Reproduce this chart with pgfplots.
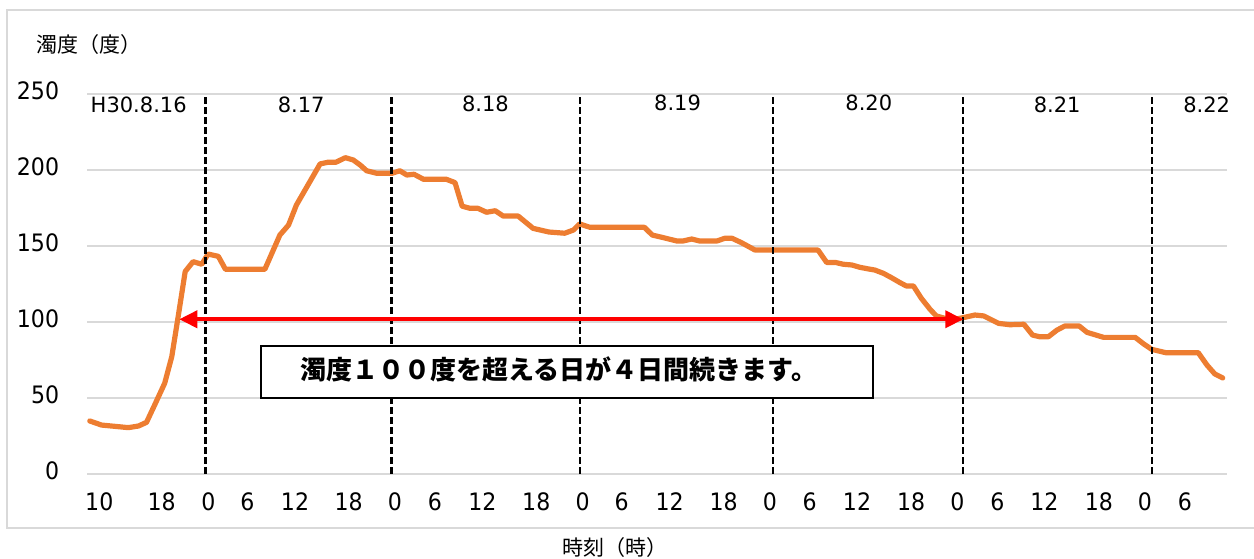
\documentclass[border=0pt]{standalone}
\usepackage{fontspec}
\usepackage{pgfplots}
\pgfplotsset{compat=1.18}
\usetikzlibrary{arrows.meta}
\setmainfont{DejaVu Sans}
\newfontfamily\numfont{DejaVu Sans}[FakeStretch=0.92]
\newfontfamily\cjk{Noto Sans CJK JP}
\definecolor{turb}{RGB}{237,125,49}
\definecolor{gridgray}{RGB}{217,217,217}
\begin{document}
\begin{tikzpicture}
\useasboundingbox (0,0) rectangle (1254bp,559bp);
% outer chart frame
\draw[gridgray, line width=1.8bp] (7bp,31.3bp) rectangle (1270bp,549bp);
\begin{axis}[
    at={(87bp,85.3bp)}, anchor=south west,
    scale only axis, width=1140bp, height=380bp,
    xmin=8.955, xmax=153.44, ymin=0, ymax=250,
    axis line style={draw=none}, tick style={draw=none},
    major tick length=0pt,
    ymajorgrids, grid style={gridgray, line width=1.8bp},
    ytick={0,50,100,150,200,250},
    yticklabels={0,50,100,150,200,250},
    xtick={10.51,18.42,24.33,29.27,35.32,42.12,47.99,53.06,59.08,65.9,71.78,76.72,82.81,89.65,95.52,100.55,106.55,113.42,119.26,124.33,130.31,137.2,143.05,148.12},
    xticklabels={10,18,0,6,12,18,0,6,12,18,0,6,12,18,0,6,12,18,0,6,12,18,0,6},
    every tick label/.append style={font=\numfont\fontsize{24bp}{28bp}\selectfont, inner sep=0pt},
    xticklabel style={anchor=center, yshift=-28bp},
    yticklabel style={anchor=east, xshift=-27.7bp, yshift=3bp},
    clip=false,
]
\addplot[turb, line width=5.2bp, line join=round, line cap=round] coordinates {
(9.3,34.7) (10.8,32) (14.2,30.3) (15.5,31.4) (16.5,33.8) (17.6,46) (18.8,59.5)
(19.7,77) (20.5,103) (21.4,133) (22.4,139.5) (23.5,137.8) (24.3,144.5) (25.6,143)
(26.5,134.5) (31.5,134.5) (33.4,157) (34.5,163.6) (35.5,176.8) (38.5,203.8)
(39.5,204.9) (40.5,204.9) (41.7,207.9) (42.7,206.4) (43.6,203) (44.4,199.3)
(45.7,197.6) (47.6,197.6) (48.6,199.3) (49.5,196.5) (50.4,197) (51.6,193.7)
(54.5,193.7) (55.6,191.5) (56.5,176) (57.5,174.6) (58.5,174.6) (59.6,172)
(60.7,173) (61.7,169.5) (63.6,169.5) (65.5,161.4) (67.5,159) (69.5,158.2)
(70.6,160.3) (71.4,164.3) (72.7,162.1) (79.6,162.1) (80.6,157) (82.0,155.3)
(83.7,153.1) (84.5,153.1) (85.6,154.4) (86.6,153.1) (88.8,153.1) (89.8,154.9)
(90.7,154.9) (91.9,152) (93.6,147.2) (101.6,147.2) (102.7,139) (103.8,139)
(104.8,137.8) (105.9,137.3) (106.9,135.8) (108.0,134.7) (108.8,134) (109.9,131.8)
(110.9,129) (112.0,125.7) (112.8,123.5) (113.7,123.5) (114.7,115.4) (115.8,108.2)
(116.6,103.8) (117.7,102.2) (119.0,101.6) (120.2,102.9) (121.5,104.4) (122.6,103.8)
(124.5,98.9) (125.9,98.0) (127.7,98.3) (128.8,91.2) (129.7,90.1) (130.8,90.1)
(131.9,94.5) (132.9,97.2) (134.7,97.2) (135.7,93) (137.8,89.7) (141.8,89.7)
(142.9,85.3) (143.9,81.8) (145.7,79.6) (149.8,79.6) (150.9,71.5) (151.9,65.6)
(152.9,63)
};
% day separators
\foreach \d in {24.0,47.57,71.44,95.9,119.98,143.94}{
  \edef\tmp{\noexpand\draw[black, line width=2.7bp, dash pattern=on 6.5bp off 3.5bp]
    (axis cs:\d,0) -- (axis cs:\d,250);}\tmp
}
% day labels
\node[font=\fontsize{21bp}{24bp}\selectfont] at (axis cs:15.51,242.8) {H30.8.16};
\node[font=\fontsize{21bp}{24bp}\selectfont] at (axis cs:36.1,242.6) {8.17};
\node[font=\fontsize{21bp}{24bp}\selectfont] at (axis cs:59.46,243) {8.18};
\node[font=\fontsize{21bp}{24bp}\selectfont] at (axis cs:83.8,244) {8.19};
\node[font=\fontsize{21bp}{24bp}\selectfont] at (axis cs:108.04,244) {8.20};
\node[font=\fontsize{21bp}{24bp}\selectfont] at (axis cs:131.92,242.6) {8.21};
\node[font=\fontsize{21bp}{24bp}\selectfont] at (axis cs:150.87,242.6) {8.22};
% duration arrow
\draw[red, line width=3.8bp, {Triangle[length=18bp,width=17bp]}-{Triangle[length=18bp,width=17bp]}]
  (axis cs:20.65,101.6) -- (axis cs:120.02,101.6);
\end{axis}
% message box
\draw[black, fill=white, line width=1.9bp] (260.7bp,161.3bp) rectangle (873.3bp,213.3bp);
\node[anchor=west, inner sep=0pt, font=\cjk\bfseries\fontsize{26bp}{30bp}\selectfont]
  at (300.4bp,189.7bp) {濁度１００度を超える日が４日間続きます。};
% axis titles
\node[anchor=west, inner sep=0pt, font=\cjk\fontsize{21bp}{25bp}\selectfont]
  at (36bp,514.7bp) {濁度（度）};
\node[anchor=west, inner sep=0pt, font=\cjk\fontsize{21bp}{25bp}\selectfont]
  at (562bp,11.5bp) {時刻（時）};
\end{tikzpicture}
\end{document}
